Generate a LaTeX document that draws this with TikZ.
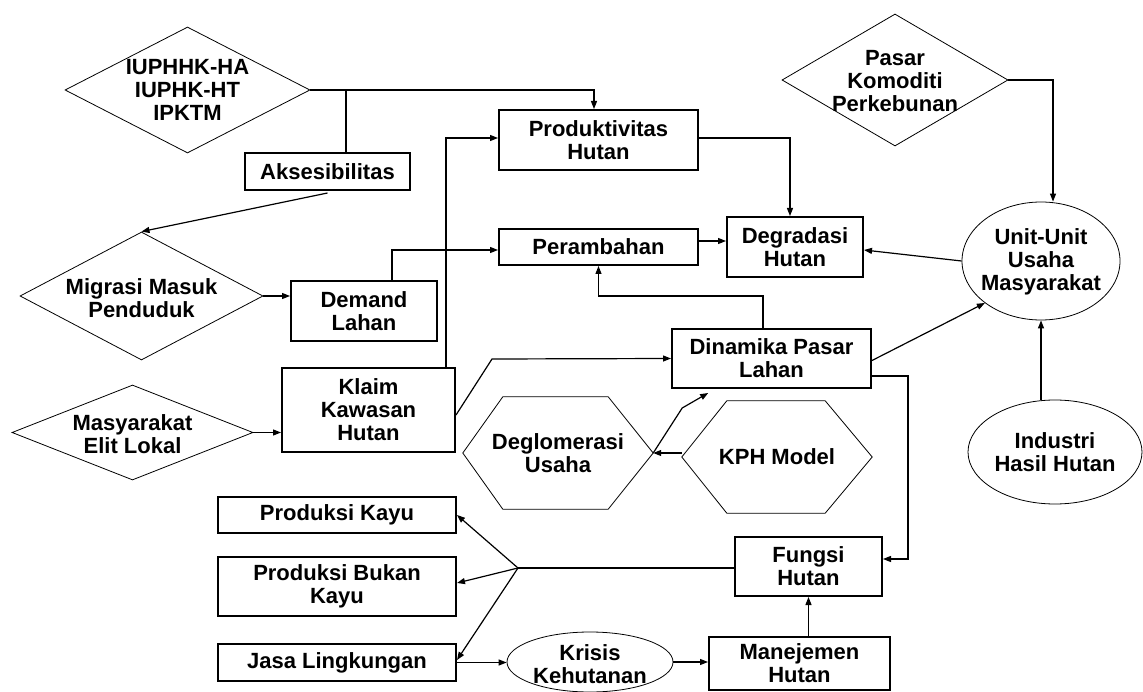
\documentclass[tikz,border=0pt]{standalone}
\usepackage{fontspec}
\setmainfont{Liberation Sans}
\usetikzlibrary{shapes.geometric,arrows.meta,calc}
\begin{document}
\begin{tikzpicture}[x=1pt,y=-1pt,
  txt/.style={font=\bfseries\fontsize{22}{23}\selectfont, align=center, inner sep=0pt},
  box/.style={txt, draw, line width=2pt},
  dia/.style={draw, diamond, line width=0.8pt, inner sep=0pt},
  ell/.style={draw, ellipse, line width=0.8pt, inner sep=0pt},
  hexline/.style={line width=0.8pt, line join=miter},
  ln/.style={line width=1.2pt},
  arr/.style={line width=1.2pt, -{Triangle[length=8pt,width=6pt]}}
]
\useasboundingbox (0,0) rectangle (1143,692);
\fill[white] (0,0) rectangle (1143,692);

% diamonds
\node[dia, minimum width=245, minimum height=126] (iup) at (187.5,90) {};
\node[txt] (iupt) at (187.5,90) {IUPHHK-HA\\IUPHK-HT\\IPKTM};
\node[dia, minimum width=226, minimum height=132] (pasar) at (895,80) {};
\node[txt] (pasart) at (895,81) {Pasar\\Komoditi\\Perkebunan};
\node[dia, minimum width=243, minimum height=128] (migr) at (141.5,296) {};
\node[txt] (migrt) at (141.5,298) {Migrasi Masuk\\Penduduk};
\node[dia, minimum width=241, minimum height=95] (masy) at (132.5,432.5) {};
\node[txt] (masyt) at (132.5,434) {Masyarakat\\Elit Lokal};

% boxes
\node[box, minimum width=165, minimum height=37] (aks) at (327.5,171.5) {Aksesibilitas};
\node[box, minimum width=199, minimum height=60] (prod) at (598.5,140) {Produktivitas\\Hutan};
\node[box, minimum width=199, minimum height=36] (peram) at (598.5,247) {Perambahan};
\node[box, minimum width=136, minimum height=60] (degr) at (795,247) {Degradasi\\Hutan};
\node[box, minimum width=146, minimum height=60] (dem) at (364,311) {Demand\\Lahan};
\node[box, minimum width=173, minimum height=84] (klaim) at (368.5,410) {Klaim\\Kawasan\\Hutan};
\node[box, minimum width=199, minimum height=59] (dina) at (771.5,358.5) {Dinamika Pasar\\Lahan};
\node[box, minimum width=238, minimum height=36] (pk) at (337,515) {Produksi Kayu};
\node[box, minimum width=238, minimum height=59] (pbk) at (337,586.5) {Produksi Bukan\\Kayu};
\node[box, minimum width=238, minimum height=37] (jasa) at (337,662.5) {Jasa Lingkungan};
\node[box, minimum width=147, minimum height=59] (fungsi) at (808.5,566.5) {Fungsi\\Hutan};
\node[box, minimum width=181, minimum height=53] (mane) at (799.5,663.5) {Manejemen\\Hutan};

% ellipses
\node[ell, minimum width=158, minimum height=118] (unit) at (1041,261) {};
\node[txt] (unitt) at (1041,262) {Unit-Unit\\Usaha\\Masyarakat};
\node[ell, minimum width=174, minimum height=104] (ind) at (1055,452) {};
\node[txt] (indt) at (1055,452) {Industri\\Hasil Hutan};
\node[ell, minimum width=166, minimum height=60] (kris) at (590,662) {};
\node[txt] (krist) at (590,664) {Krisis\\Kehutanan};

% hexagons
\node[txt, minimum width=190, minimum height=112] (deg) at (558,453) {Deglomerasi\\Usaha};
\draw[hexline] (deg.west) -- ([xshift=40]deg.north west) -- ([xshift=-45]deg.north east) -- (deg.east) -- ([xshift=-45]deg.south east) -- ([xshift=40]deg.south west) -- cycle;
\node[txt, minimum width=190, minimum height=112] (kph) at (777,457) {KPH Model};
\draw[hexline] (kph.west) -- ([xshift=45]kph.north west) -- ([xshift=-47]kph.north east) -- (kph.east) -- ([xshift=-47]kph.south east) -- ([xshift=45]kph.south west) -- cycle;

% connectors
\draw[arr] (iup.east) -| ([xshift=-4.5]prod.north);
\draw[ln] ([xshift=18.5]aks.north) -- ([xshift=18.5]aks.north |- iup.east);
\draw[arr] ([yshift=-2]aks.south) -- (migr.north);
\draw[arr] (migr.east) -- (migr.east -| dem.west);
\draw[arr] ([xshift=28]dem.north) |- ([yshift=-3]peram.west);
\draw[arr] ([xshift=77.5]klaim.north) |- ([yshift=2]prod.west);
\draw[arr] (masy.east) -- (masy.east -| klaim.west);
\draw[arr] ([yshift=2]prod.east) -| ([xshift=-5]degr.north);
\draw[arr] ([yshift=6]peram.east) -- ([yshift=6]peram.east -| degr.west);
\draw[arr] (pasar.east) -| ([xshift=12]unit.north);
\draw[arr] (unit.west) -- ([yshift=-3]degr.east);
\draw[arr] ([yshift=-2]dina.east) -- (unit.south west);
\coordinate (rt) at (908,376);
\draw[arr] ([yshift=-17.5]dina.east) -- (rt) |- ([yshift=7.5]fungsi.east);
\draw[arr] ([xshift=-8.5]dina.north) -- ++(0,-32) -| (peram.south);
\draw[arr] ([yshift=-5]klaim.east) -- ++(36,-56) -- (dina.west);
\draw[arr] (kph.west |- deg.east) -- (deg.east);
\draw[arr] (deg.east) -- ++(29,-45) -- ++(26,-15);
\draw[arr] (ind.north -| unit.south) -- (unit.south);
\coordinate (br) at (518,568);
\draw[ln] ([yshift=-1.5]fungsi.west) -- (br);
\draw[arr] (br) -- (pk.east);
\draw[arr] (br) -- ([yshift=3.5]pbk.east);
\draw[arr] (br) -- ([yshift=2.5]jasa.east);
\draw[arr] (jasa.east) -- (jasa.east -| kris.west);
\draw[arr] (kris.east) -- (kris.east -| mane.west);
\draw[arr] (mane.north -| fungsi.south) -- (fungsi.south);
\end{tikzpicture}
\end{document}
